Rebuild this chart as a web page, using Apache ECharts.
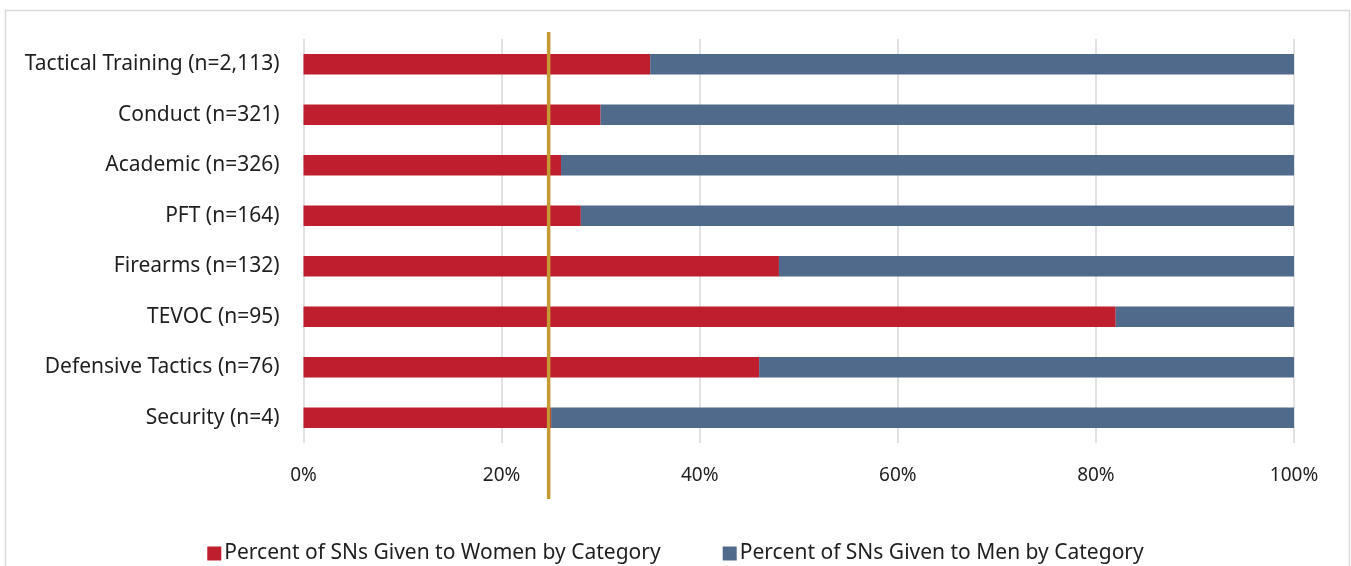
<!DOCTYPE html>
<html><head><meta charset="utf-8">
<script src="https://cdn.jsdelivr.net/npm/echarts@6/dist/echarts.min.js"></script>
<style>html,body{margin:0;padding:0;background:#fff}#c{width:1351px;height:566px}</style>
</head><body><div id="c"></div>
<script>
const categories = ["Tactical Training (n=2,113)","Conduct (n=321)","Academic (n=326)","PFT (n=164)","Firearms (n=132)","TEVOC (n=95)","Defensive Tactics (n=76)","Security (n=4)"];
const women = [35, 30, 26, 28, 48, 82, 46, 25];
const men = [65, 70, 74, 72, 52, 18, 54, 75];
const xTicks = [0, 20, 40, 60, 80, 100];
const referenceLine = 24.75;
const seriesNames = ["Percent of SNs Given to Women by Category","Percent of SNs Given to Men by Category"];

const font = "'Noto Sans', 'Open Sans', sans-serif";
const chart = echarts.init(document.getElementById('c'), null, {renderer:'canvas'});
chart.setOption({
  animation:false,
  textStyle:{fontFamily:font},
  grid:{left:303.5, right:57, top:39, bottom:123, containLabel:false},
  xAxis:{type:'value', min:0, max:100, interval:20,
    axisLine:{show:false}, axisTick:{show:false},
    axisLabel:{formatter:v=>xTicks.includes(v)?v+'%':'', color:'#1f1f1f', fontSize:19, margin:23, fontFamily:font},
    splitLine:{show:true, lineStyle:{color:'#d9d9d9', width:1.5}}},
  yAxis:{type:'category', data:categories, inverse:true,
    axisLine:{show:false}, axisTick:{show:false},
    axisLabel:{color:'#1f1f1f', fontSize:21, margin:24, fontFamily:font}},
  legend:{bottom:-3, left:'center', itemWidth:14, itemHeight:14, itemGap:62, icon:'rect',
    textStyle:{color:'#1f1f1f', fontSize:21, fontFamily:font, padding:[0,0,0,-2]}, data:seriesNames},
  series:[
    {name:seriesNames[0], type:'bar', stack:'s', data:women, barWidth:20.5, itemStyle:{color:'#BE1E2D'}},
    {name:seriesNames[1], type:'bar', stack:'s', data:men, barWidth:20.5, itemStyle:{color:'#4F6A8A'}}
  ]
});
const px = chart.convertToPixel({xAxisIndex:0}, referenceLine);
chart.setOption({graphic:[
  {type:'rect', shape:{x:5.5, y:10.5, width:1344, height:620}, style:{fill:null, stroke:'#d9d9d9', lineWidth:1.5}, silent:true, z:-1},
  {type:'line', shape:{x1:px, y1:32, x2:px, y2:499}, style:{stroke:'#C49A33', lineWidth:3.5}, z:100}
]});
</script></body></html>
